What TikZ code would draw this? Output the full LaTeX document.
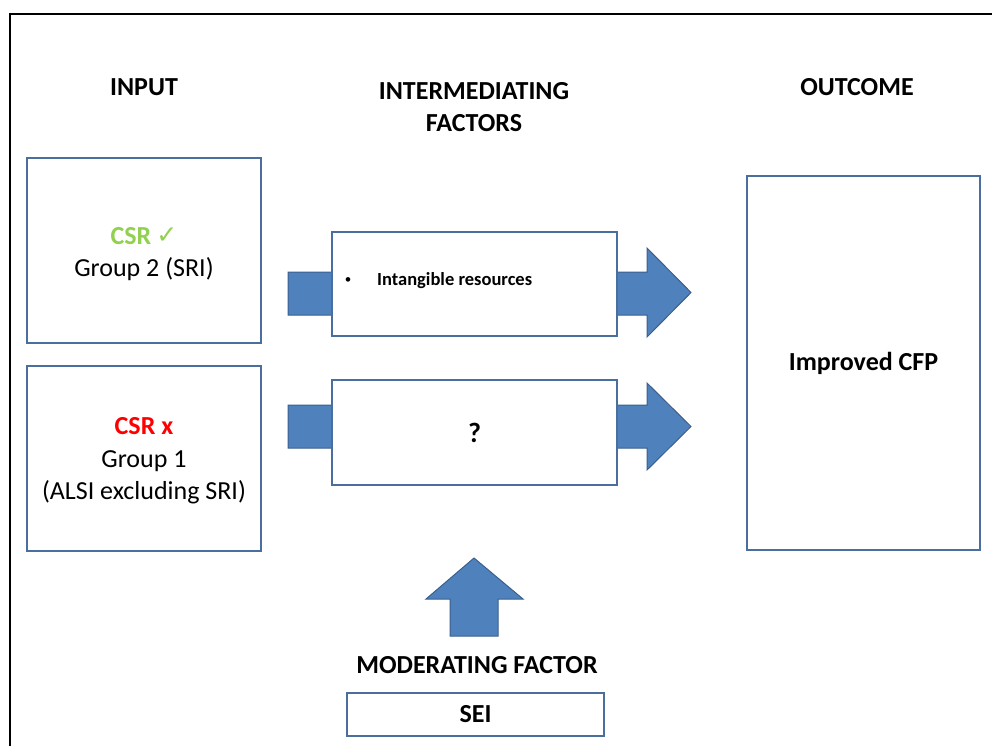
\documentclass[tikz,border=0pt]{standalone}
\usepackage{fontspec}
\setmainfont{Carlito}
\newfontfamily\symfont{DejaVu Sans}
\usetikzlibrary{calc}
\definecolor{boxline}{HTML}{4A6E9E}
\definecolor{arrowfill}{HTML}{4F81BD}
\definecolor{arrowline}{HTML}{3A5F8E}
\definecolor{okgreen}{HTML}{92D050}
\definecolor{badred}{HTML}{FF0000}
\tikzset{
  x=1pt, y=-1pt,
  frameline/.style={line width=2.6pt, black},
  panel/.style={draw=boxline, line width=2.4pt, fill=white, inner sep=0pt, align=center,
                font=\fontsize{26}{32.5}\selectfont},
  paneltext/.style={inner sep=0pt, align=center, font=\fontsize{26}{32.5}\selectfont},
  heading/.style={font=\fontsize{26}{32}\selectfont\bfseries, align=center, inner sep=0pt},
  blockarrow/.style={fill=arrowfill, draw=arrowline, line width=1pt, line join=miter}
}
\begin{document}
\begin{tikzpicture}
\useasboundingbox (0,0) rectangle (992,745);
% outer frame (open on the right and at the bottom)
\draw[frameline] (10,746) -- (10,14) -- (993,14);

% column headings
\node[heading] (hin)  at (144,87)  {INPUT};
\node[heading] (hmid) at (474,107) {INTERMEDIATING\\FACTORS};
\node[heading] (hout) at (857,87)  {OUTCOME};

% block arrows running through the intermediate boxes
\coordinate (a1) at (288,272);
\coordinate (a2) at (288,405);
\fill[blockarrow] (a1) -- ++(359,0) -- ++(0,-24) -- ++(44,44.5) -- ++(-44,44.5)
  -- ++(0,-22) -- ++(-359,0) -- cycle;
\fill[blockarrow] (a2) -- ++(359,0) -- ++(0,-22) -- ++(44,43.5) -- ++(-44,43.5)
  -- ++(0,-22) -- ++(-359,0) -- cycle;

% input groups
\node[panel, minimum width=234pt, minimum height=185pt] (g2) at (144,250.5) {};
\node[paneltext] (g2t) at (144,254)
  {{\bfseries\color{okgreen}CSR\hspace{0.2em}\raisebox{1pt}{\symfont\fontsize{25}{28}\selectfont\mdseries ✓}}\\Group 2 (SRI)};
\node[panel, minimum width=234pt, minimum height=185pt] (g1) at (144,458.5) {};
\node[paneltext] (g1t) at (144,461)
  {{\bfseries\color{badred}CSR x}\\Group 1\\(ALSI excluding SRI)};

% intermediating factors
\node[panel, minimum width=285pt, minimum height=104pt] (m1) at (474.5,284) {};
\node[font=\fontsize{13}{16}\selectfont, anchor=center, inner sep=0pt] (b1) at (348,280.5) {\textbullet};
\node[font=\fontsize{18.5}{22}\selectfont\bfseries, anchor=west, inner sep=0pt] (t1) at (377,281) {Intangible resources};
\node[panel, minimum width=285pt, minimum height=105pt, font=\fontsize{28}{32}\selectfont\bfseries] (m2) at (474.5,432.5) {?};

% outcome
\node[panel, minimum width=233pt, minimum height=374pt, font=\fontsize{26}{32}\selectfont\bfseries] (out) at (863.5,363) {Improved CFP};

% moderating factor
\coordinate (up) at (474,558);
\fill[blockarrow] (up) -- (523,599) -- (498,599) -- (498,636) -- (450,636) -- (450,599) -- (426,599) -- cycle;
\node[heading] (hmod) at (477,665) {MODERATING FACTOR};
\node[panel, minimum width=257pt, minimum height=43pt, line width=1.5pt, font=\fontsize{26}{32}\selectfont\bfseries] (sei) at (475.5,714.5) {SEI};
\end{tikzpicture}
\end{document}
